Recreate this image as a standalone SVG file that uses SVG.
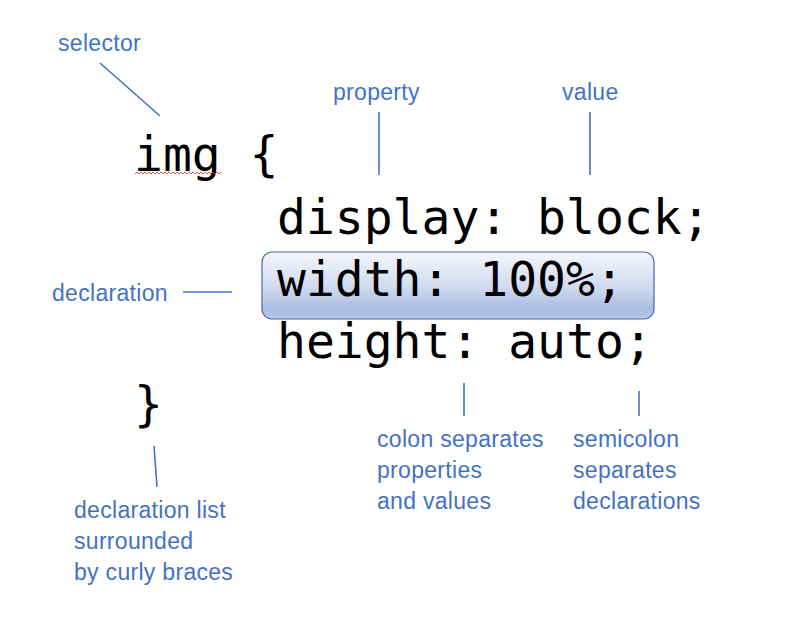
<svg xmlns="http://www.w3.org/2000/svg" width="789" height="621" viewBox="0 0 789 621">
<defs>
<linearGradient id="g" x1="0" y1="0" x2="0" y2="1">
<stop offset="0" stop-color="#f4f6fb"/>
<stop offset="0.5" stop-color="#d3dcef"/>
<stop offset="0.85" stop-color="#a8bde2"/>
<stop offset="1" stop-color="#b7c7e7"/>
</linearGradient>
<style>
.lbl{font-family:"Liberation Sans","DejaVu Sans",sans-serif;font-size:23px;letter-spacing:0.3px;fill:#4472C4}
.code{font-family:"DejaVu Sans Mono","Liberation Mono",monospace;font-size:48px;fill:#000}
.ln{stroke:#4472C4;stroke-width:1.6;fill:none}
</style>
</defs>
<rect width="789" height="621" fill="#fff"/>
<g id="code">
<rect id="decl-box" x="262" y="252" width="392" height="67" rx="10" fill="url(#g)" stroke="#4a69a8" stroke-width="1.2"/>
<text class="code" x="134" y="171">img {</text>
<path d="M135 174 l2 -2 l2 2 l2 -2 l2 2 l2 -2 l2 2 l2 -2 l2 2 l2 -2 l2 2 l2 -2 l2 2 l2 -2 l2 2 l2 -2 l2 2 l2 -2 l2 2 l2 -2 l2 2 l2 -2 l2 2 l2 -2 l2 2 l2 -2 l2 2 l2 -2 l2 2 l2 -2 l2 2 l2 -2 l2 2 l2 -2 l2 2 l2 -2 l2 2 l2 -2 l2 2 l2 -2 l2 2 l2 -2 l2 2 l2 -2" stroke="#e03030" stroke-width="0.8" fill="none"/>
<text class="code" x="277" y="234">display: block;</text>
<text class="code" x="277" y="296">width: 100%;</text>
<text class="code" x="277" y="358">height: auto;</text>
<text class="code" x="134" y="421">}</text>
</g>
<g id="connectors">
<line class="ln" x1="100" y1="63" x2="160" y2="116"/>
<line class="ln" x1="379" y1="112" x2="379" y2="175"/>
<line class="ln" x1="590" y1="112" x2="590" y2="175"/>
<line class="ln" x1="183" y1="292" x2="232" y2="292"/>
<line class="ln" x1="154" y1="446" x2="157" y2="487"/>
<line class="ln" x1="464" y1="383" x2="464" y2="416"/>
<line class="ln" x1="639" y1="391" x2="639" y2="416"/>
</g>
<g id="selector"><text class="lbl" x="58" y="51">selector</text></g>
<g id="property"><text class="lbl" x="333" y="100">property</text></g>
<g id="value"><text class="lbl" x="562" y="100">value</text></g>
<g id="declaration"><text class="lbl" x="52" y="301">declaration</text></g>
<g id="colon"><text class="lbl" x="377" y="447">colon separates</text><text class="lbl" x="377" y="478">properties</text><text class="lbl" x="377" y="509">and values</text></g>
<g id="semicolon"><text class="lbl" x="573" y="447">semicolon</text><text class="lbl" x="573" y="478">separates</text><text class="lbl" x="573" y="509">declarations</text></g>
<g id="declist"><text class="lbl" x="74" y="518">declaration list</text><text class="lbl" x="74" y="549">surrounded</text><text class="lbl" x="74" y="580">by curly braces</text></g>
</svg>
